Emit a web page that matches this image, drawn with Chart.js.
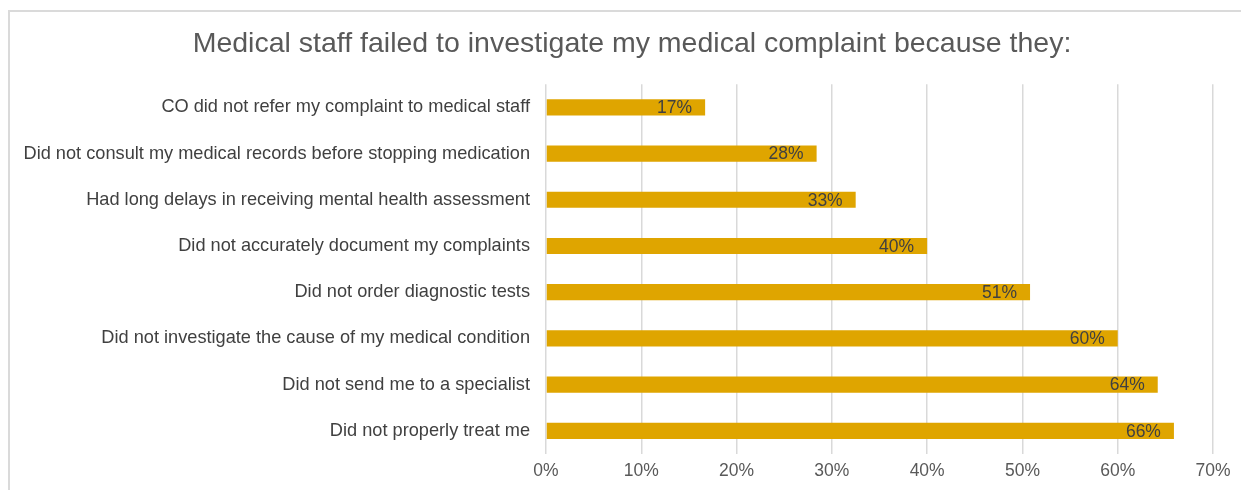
<!DOCTYPE html>
<html>
<head>
<meta charset="utf-8">
<script src="https://cdn.jsdelivr.net/npm/chart.js@4"></script>
<style>
  body { margin: 0; background: #fff; }
  #frame {
    position: absolute; left: 8px; top: 10px; width: 1260px; height: 520px;
    border-left: 2px solid #dadada; border-top: 2px solid #dadada;
  }
  #wrap { position: absolute; left: 0; top: 0; width: 1241px; height: 490px; }
</style>
</head>
<body>
<div id="frame"></div>
<div id="wrap"><canvas id="chart" width="1241" height="490"></canvas></div>
<script>
const categories = [
    "CO did not refer my complaint to medical staff",
    "Did not consult my medical records before stopping medication",
    "Had long delays in receiving mental health assessment",
    "Did not accurately document my complaints",
    "Did not order diagnostic tests",
    "Did not investigate the cause of my medical condition",
    "Did not send me to a specialist",
    "Did not properly treat me"
];
const shares = [16.7, 28.4, 32.5, 40.0, 50.8, 60.0, 64.2, 65.9];
const xTicks = [0, 10, 20, 30, 40, 50, 60, 70];

Chart.defaults.font.family = "'Liberation Sans', Arial, Helvetica, sans-serif";
Chart.defaults.font.size = 17.5;
Chart.defaults.color = "#595959";

// values written at the inner end of each bar
const barLabels = {
    id: "barLabels",
    afterLayout(chart) {
        // let the long category labels run past the left padding (no clipping)
        chart.scales.y.left = 0;
    },
    afterDatasetsDraw(chart) {
        const ctx = chart.ctx;
        const meta = chart.getDatasetMeta(0);
        ctx.save();
        ctx.font = "17.5px 'Liberation Sans', Arial, sans-serif";
        ctx.fillStyle = "#404040";
        ctx.textAlign = "right";
        ctx.textBaseline = "middle";
        meta.data.forEach((bar, i) => {
            ctx.fillText(Math.round(shares[i]) + "%", bar.x - 13, bar.y + 1);
        });
        ctx.restore();
    }
};

new Chart(document.getElementById("chart"), {
    type: "bar",
    data: {
        labels: categories,
        datasets: [{
            data: shares,
            backgroundColor: "#DFA500",
            barPercentage: 0.35,
            categoryPercentage: 1
        }]
    },
    options: {
        indexAxis: "y",
        responsive: false,
        animation: false,
        layout: { padding: { left: 51, right: 28, top: 0, bottom: 1 } },
        plugins: {
            legend: { display: false },
            tooltip: { enabled: false },
            title: {
                display: true,
                text: "Medical staff failed to investigate my medical complaint because they:",
                color: "#595959",
                font: { size: 28.5, weight: "normal" },
                padding: { top: 27, bottom: 23 }
            }
        },
        scales: {
            x: {
                min: 0,
                max: 70,
                afterBuildTicks: (scale) => { scale.ticks = xTicks.map(v => ({ value: v })); },
                ticks: { callback: v => v + "%", padding: 7, color: "#595959" },
                grid: { color: "#d9d9d9", lineWidth: 1.5, drawTicks: false },
                border: { display: false }
            },
            y: {
                afterFit: (scale) => { scale.width = 495; },
                ticks: { padding: 16, color: "#404040", autoSkip: false, font: { size: 18.2 } },
                grid: { display: false, drawTicks: false },
                border: { display: false }
            }
        }
    },
    plugins: [barLabels]
});
</script>
</body>
</html>
